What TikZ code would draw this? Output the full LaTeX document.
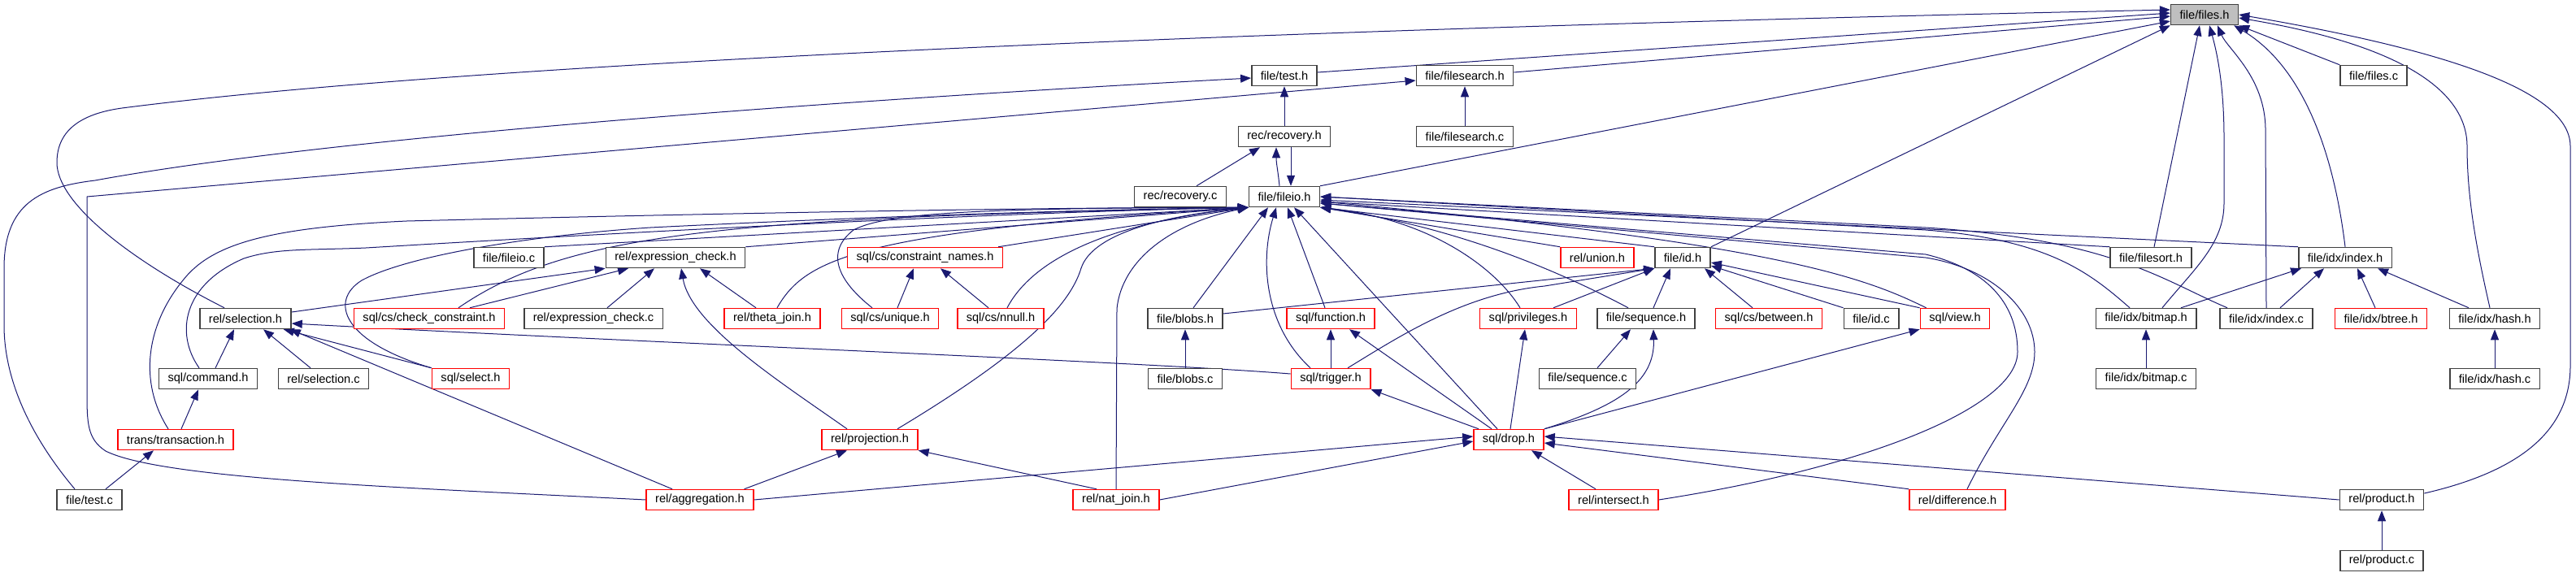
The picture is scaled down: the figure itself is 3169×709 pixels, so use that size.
\documentclass[tikz,border=0pt]{standalone}
\usepackage{fontspec}
\setmainfont{Liberation Sans}
\usetikzlibrary{arrows.meta,backgrounds}

\definecolor{edgeblue}{HTML}{191970}
\definecolor{boxred}{HTML}{FF0000}
\definecolor{boxgray}{HTML}{BFBFBF}

\begin{document}
\begin{tikzpicture}[x=0.5pt, y=-0.5pt,
  every node/.style={draw=black!75, line width=0.75pt, fill=white, minimum height=12.5pt, inner xsep=5.5pt, inner ysep=0pt, font=\fontsize{7.3}{9}\selectfont},
  redbox/.style={draw=boxred},
  graybox/.style={fill=boxgray},
  dep/.style={->, >={Triangle[length=6.5pt, width=5pt]}, color=edgeblue, line width=0.5pt}]
\useasboundingbox (0,0) rectangle (3169,709);

\node[graybox] (files_h) at (2712,18) {file/files.h};
\node (test_h) at (1580,93) {file/test.h};
\node (filesearch_h) at (1802,93) {file/filesearch.h};
\node (files_c) at (2920,93) {file/files.c};
\node (recovery_h) at (1580,168) {rec/recovery.h};
\node (filesearch_c) at (1802,168) {file/filesearch.c};
\node (recovery_c) at (1452,242) {rec/recovery.c};
\node (fileio_h) at (1580,242) {file/fileio.h};
\node (fileio_c) at (626,317) {file/fileio.c};
\node (exprcheck_h) at (831,317) {rel/expression\_check.h};
\node[redbox] (constraint_names) at (1138,317) {sql/cs/constraint\_names.h};
\node[redbox] (union_h) at (1965,317) {rel/union.h};
\node (id_h) at (2070,317) {file/id.h};
\node (filesort_h) at (2646,317) {file/filesort.h};
\node (index_h) at (2885,317) {file/idx/index.h};
\node (selection_h) at (302,392) {rel/selection.h};
\node[redbox] (check_constraint) at (528,392) {sql/cs/check\_constraint.h};
\node (exprcheck_c) at (730,392) {rel/expression\_check.c};
\node[redbox] (theta_join) at (950,392) {rel/theta\_join.h};
\node[redbox] (unique_h) at (1095,392) {sql/cs/unique.h};
\node[redbox] (nnull_h) at (1231,392) {sql/cs/nnull.h};
\node (blobs_h) at (1458,392) {file/blobs.h};
\node[redbox] (function_h) at (1637,392) {sql/function.h};
\node[redbox] (privileges_h) at (1880,392) {sql/privileges.h};
\node (sequence_h) at (2025,392) {file/sequence.h};
\node[redbox] (between_h) at (2176,392) {sql/cs/between.h};
\node (id_c) at (2302,392) {file/id.c};
\node[redbox] (view_h) at (2405,392) {sql/view.h};
\node (bitmap_h) at (2640,392) {file/idx/bitmap.h};
\node (index_c) at (2788,392) {file/idx/index.c};
\node[redbox] (btree_h) at (2929,392) {file/idx/btree.h};
\node (hash_h) at (3069,392) {file/idx/hash.h};
\node (command_h) at (256,466) {sql/command.h};
\node (selection_c) at (398,466) {rel/selection.c};
\node[redbox] (select_h) at (579,466) {sql/select.h};
\node (blobs_c) at (1458,466) {file/blobs.c};
\node[redbox] (trigger_h) at (1637,466) {sql/trigger.h};
\node (sequence_c) at (1953,466) {file/sequence.c};
\node (bitmap_c) at (2640,466) {file/idx/bitmap.c};
\node (hash_c) at (3069,466) {file/idx/hash.c};
\node[redbox] (transaction_h) at (216,541) {trans/transaction.h};
\node[redbox] (projection_h) at (1070,541) {rel/projection.h};
\node[redbox] (drop_h) at (1856,541) {sql/drop.h};
\node (test_c) at (110,615) {file/test.c};
\node[redbox] (aggregation_h) at (861,615) {rel/aggregation.h};
\node[redbox] (nat_join) at (1373,615) {rel/nat\_join.h};
\node[redbox] (intersect_h) at (1985,615) {rel/intersect.h};
\node[redbox] (difference_h) at (2408,615) {rel/difference.h};
\node (product_h) at (2930,615) {rel/product.h};
\node (product_c) at (2930,690) {rel/product.c};

\begin{scope}[on background layer]
\draw[dep] ([xshift=-13pt]selection_h.north) .. controls (160,320) and (70,250) .. (70,200) .. controls (70,160) and (100,140) .. (150,133) .. controls (600,75) and (1600,35) .. ([yshift=3pt]files_h.west);
\draw[dep] ([yshift=2pt]test_h.east) -- ([yshift=1pt]files_h.west);
\draw[dep] ([yshift=2pt]filesearch_h.east) -- ([yshift=-1pt]files_h.west);
\draw[dep] (fileio_h.north east) -- ([yshift=-4pt]files_h.west);
\draw[dep] (id_h.north east) -- (files_h.south west);
\draw[dep] ([xshift=2pt]filesort_h.north) -- ([xshift=-3pt]files_h.south);
\draw[dep] ([xshift=10pt]bitmap_h.north) .. controls (2700,330) and (2736,300) .. (2736,250) -- (2736,170) .. controls (2736,100) and (2726,60) .. ([xshift=3pt]files_h.south);
\draw[dep] (index_c.north) -- (2787,160) .. controls (2787,95) and (2740,60) .. ([xshift=8pt]files_h.south);
\draw[dep] (index_h.north) .. controls (2870,180) and (2830,80) .. ([xshift=-3pt]files_h.south east);
\draw[dep] (files_c.north west) -- (files_h.south east);
\draw[dep] ([xshift=-3pt]hash_h.north) .. controls (3045,300) and (3035,240) .. (3035,180) .. controls (3035,110) and (2950,55) .. ([yshift=-2pt]files_h.east);
\draw[dep] ([yshift=4pt]product_h.east) .. controls (3100,580) and (3162,530) .. (3162,450) -- (3162,180) .. controls (3162,110) and (3000,60) .. (files_h.east);

\draw[dep] ([xshift=-9pt]test_c.north) .. controls (40,540) and (5,470) .. (5,400) -- (5,330) .. controls (5,250) and (50,230) .. (117,222) .. controls (400,170) and (1000,125) .. ([yshift=-1.5pt]test_h.west);
\draw[dep] (aggregation_h.west) .. controls (500,600) and (200,590) .. (130,555) .. controls (107,540) and (107,520) .. (107,480) -- (107,242) -- ([yshift=-3pt]filesearch_h.west);
\draw[dep] (recovery_h) -- (test_h);
\draw[dep] (filesearch_c) -- (filesearch_h);
\draw[dep] ([xshift=10pt]recovery_c.north) -- ([xshift=-15pt]recovery_h.south);
\draw[dep] ([xshift=-3pt]fileio_h.north) .. controls +(-2,-20) and +(0,20) .. ([xshift=-5pt]recovery_h.south);
\draw[dep] ([xshift=4pt]recovery_h.south) -- ([xshift=4pt]fileio_h.north);

\draw[dep] (fileio_c.north east) -- (fileio_h.south west);
\draw[dep] (exprcheck_h.north east) -- (fileio_h.south west);
\draw[dep] ([xshift=-3pt]constraint_names.north east) -- (fileio_h.south west);
\draw[dep] ([xshift=18pt]check_constraint.north) .. controls (700,285) and (900,268) .. (fileio_h.south west);
\draw[dep] ([xshift=3pt]theta_join.north) .. controls (990,320) and (1050,285) .. (fileio_h.south west);
\draw[dep] ([xshift=-11pt]unique_h.north) .. controls (1030,345) and (1015,310) .. (1050,283) .. controls (1090,262) and (1200,256) .. (fileio_h.south west);
\draw[dep] ([xshift=4pt]nnull_h.north) .. controls (1270,320) and (1360,275) .. (fileio_h.south west);
\draw[dep] (nat_join.north) -- (1374,380) .. controls (1380,320) and (1440,275) .. (fileio_h.south west);
\draw[dep] ([xshift=17pt]projection_h.north) .. controls (1250,440) and (1315,380) .. (1330,330) .. controls (1345,285) and (1440,265) .. (fileio_h.south west);
\draw[dep] ([xshift=-4.5pt]transaction_h.north) .. controls (170,470) and (180,400) .. (225,345) .. controls (260,300) and (330,280) .. (500,272) .. controls (900,262) and (1300,255) .. (fileio_h.south west);
\draw[dep] ([xshift=-5.5pt]command_h.north) .. controls (215,410) and (225,350) .. (300,318) .. controls (340,305) and (380,308) .. (450,305) .. controls (700,290) and (1200,262) .. (fileio_h.south west);
\draw[dep] (select_h.north west) .. controls (420,420) and (405,370) .. (445,345) .. controls (500,315) and (650,290) .. (800,280) .. controls (1100,265) and (1350,258) .. (fileio_h.south west);
\draw[dep] ([xshift=5pt]blobs_h.north) -- ([xshift=-10pt]fileio_h.south);
\draw[dep] ([xshift=-12.5pt]trigger_h.north) .. controls (1555,400) and (1550,320) .. ([xshift=-5pt]fileio_h.south);
\draw[dep] ([xshift=-3.5pt]function_h.north) -- ([xshift=2pt]fileio_h.south);
\draw[dep] ([xshift=-7pt]drop_h.north) -- ([xshift=6pt]fileio_h.south);

\draw[dep] (union_h.north west) -- (fileio_h.south east);
\draw[dep] (id_h.north west) -- (fileio_h.south east);
\draw[dep] ([xshift=-5pt]privileges_h.north) .. controls (1840,330) and (1760,270) .. (fileio_h.south east);
\draw[dep] ([xshift=-11pt]sequence_h.north) .. controls (1930,340) and (1800,280) .. (fileio_h.south east);
\draw[dep] ([xshift=4pt]view_h.north west) .. controls (2300,345) and (2200,300) .. ([yshift=-3pt]fileio_h.east);
\draw[dep] (filesort_h.north west) -- ([yshift=-3pt]fileio_h.east);
\draw[dep] (index_h.north west) -- ([yshift=-2pt]fileio_h.east);
\draw[dep] ([xshift=-10pt]bitmap_h.north) .. controls (2570,335) and (2520,295) .. (2369,283) -- (fileio_h.east);
\draw[dep] ([xshift=-24pt]index_c.north) .. controls (2660,345) and (2600,295) .. (2369,280) -- (fileio_h.east);
\draw[dep] (intersect_h.east) .. controls (2300,575) and (2482,500) .. (2482,433) .. controls (2482,370) and (2440,330) .. (2369,313) -- ([yshift=-4pt]fileio_h.east);
\draw[dep] ([xshift=6pt]difference_h.north) .. controls (2460,520) and (2503,480) .. (2503,433) .. controls (2503,380) and (2450,330) .. (2369,317) -- ([yshift=-4pt]fileio_h.east);

\draw[dep] ([yshift=4pt]selection_h.east) -- (exprcheck_h.south west);
\draw[dep] ([xshift=25pt]check_constraint.north) -- ([xshift=-29pt]exprcheck_h.south);
\draw[dep] ([xshift=8.5pt]exprcheck_c.north) -- ([xshift=-13pt]exprcheck_h.south);
\draw[dep] ([xshift=-10pt]theta_join.north) -- ([xshift=15pt]exprcheck_h.south);
\draw[dep] ([xshift=-14pt]projection_h.north) .. controls (960,470) and (850,400) .. ([xshift=3.5pt]exprcheck_h.south);
\draw[dep] ([xshift=4.5pt]unique_h.north) -- ([xshift=-7pt]constraint_names.south);
\draw[dep] ([xshift=-7.5pt]nnull_h.north) -- ([xshift=9.5pt]constraint_names.south);

\draw[dep] ([xshift=4.5pt]command_h.north) -- ([xshift=-7pt]selection_h.south);
\draw[dep] ([xshift=-8pt]selection_c.north) -- ([xshift=11pt]selection_h.south);
\draw[dep] (select_h.north west) -- ([xshift=-5pt]selection_h.south east);
\draw[dep] ([xshift=-17pt]aggregation_h.north) -- ([xshift=-1pt]selection_h.south east);
\draw[dep] ([yshift=3pt]trigger_h.west) .. controls (1400,445) and (800,422) .. ([yshift=-3pt]selection_h.east);
\draw[dep] ([xshift=3.5pt]transaction_h.north) -- ([xshift=-6pt]command_h.south);
\draw[dep] ([xshift=10pt]test_c.north) -- ([xshift=-13.5pt]transaction_h.south);

\draw[dep] ([yshift=3pt]blobs_h.east) -- (id_h.south west);
\draw[dep] ([xshift=10.5pt]trigger_h.north) .. controls (1720,415) and (1800,362) .. (1900,352) -- (id_h.south west);
\draw[dep] ([xshift=15.5pt]privileges_h.north) -- (id_h.south west);
\draw[dep] ([xshift=4.5pt]sequence_h.north) -- ([xshift=-7.5pt]id_h.south);
\draw[dep] ([xshift=-10pt]between_h.north) -- ([xshift=13.5pt]id_h.south);
\draw[dep] (id_c.north west) -- ([yshift=-5pt]id_h.east);
\draw[dep] (view_h.north west) -- ([yshift=-3pt]id_h.east);
\draw[dep] (blobs_c) -- (blobs_h);

\draw[dep] (trigger_h) -- (function_h);
\draw[dep] ([xshift=-18.5pt]drop_h.north) -- (trigger_h.south east);
\draw[dep] ([xshift=-10.5pt]drop_h.north) -- ([xshift=11.5pt]function_h.south);
\draw[dep] ([xshift=1pt]drop_h.north) -- ([xshift=-2pt]privileges_h.south);
\draw[dep] (drop_h.north east) .. controls (1990,500) and (2036,470) .. ([xshift=4.5pt]sequence_h.south);
\draw[dep] (drop_h.north east) -- (view_h.south west);
\draw[dep] ([xshift=6pt]sequence_c.north) -- ([xshift=-9.5pt]sequence_h.south);

\draw[dep] (aggregation_h.east) -- ([yshift=2pt]drop_h.west);
\draw[dep] (nat_join.east) -- ([yshift=-1pt]drop_h.west);
\draw[dep] ([xshift=-11pt]intersect_h.north) -- ([xshift=14pt]drop_h.south);
\draw[dep] (difference_h.north west) -- ([yshift=-2pt]drop_h.east);
\draw[dep] (product_h.west) -- ([yshift=2pt]drop_h.east);
\draw[dep] ([xshift=-6pt]aggregation_h.north east) -- ([xshift=-14pt]projection_h.south);
\draw[dep] ([xshift=-12pt]nat_join.north) -- (projection_h.south east);

\draw[dep] ([xshift=21.5pt]bitmap_h.north) -- ([xshift=-27pt]index_h.south);
\draw[dep] ([xshift=8.5pt]index_c.north) -- ([xshift=-13pt]index_h.south);
\draw[dep] ([xshift=-3.5pt]btree_h.north) -- ([xshift=7.5pt]index_h.south);
\draw[dep] ([xshift=-16pt]hash_h.north) -- ([xshift=20pt]index_h.south);
\draw[dep] (bitmap_c) -- (bitmap_h);
\draw[dep] (hash_c) -- (hash_h);
\draw[dep] (product_c) -- (product_h);
\end{scope}
\end{tikzpicture}
\end{document}
